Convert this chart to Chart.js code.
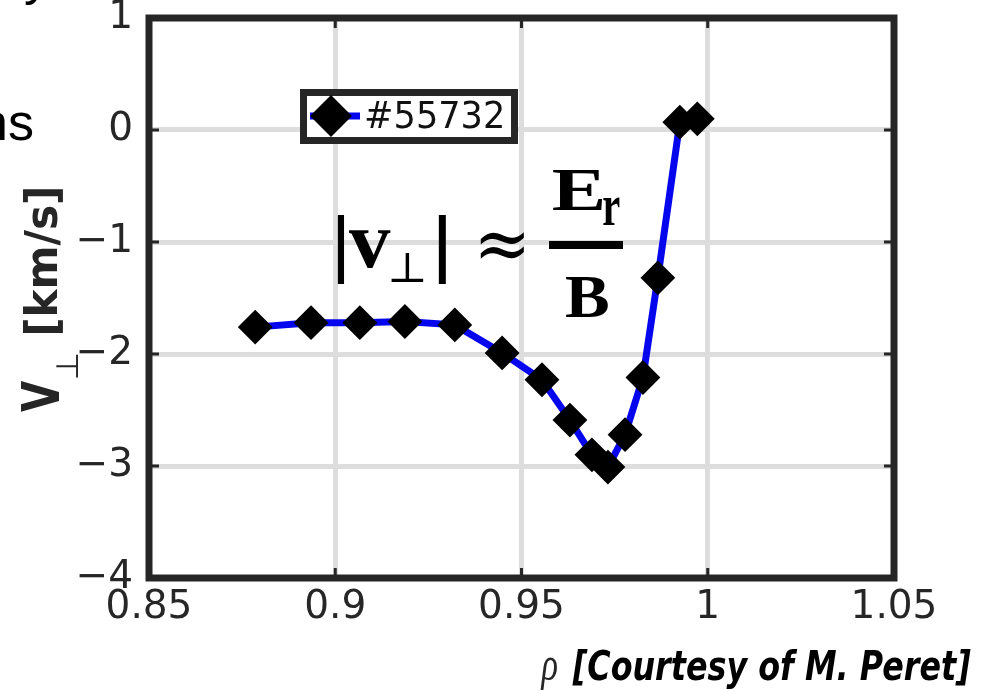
<!DOCTYPE html>
<html><head><meta charset="utf-8">
<script src="https://cdn.jsdelivr.net/npm/chart.js@4.4.1/dist/chart.umd.min.js"></script>
<style>html,body{margin:0;padding:0;background:#fff;overflow:hidden}</style>
</head><body>
<canvas id="c" width="981" height="691"></canvas>
<script>
// ---- data ----
const rho   = [0.8785, 0.8935, 0.9066, 0.9187, 0.9321, 0.9448, 0.9555, 0.9630, 0.9689, 0.9732, 0.9778, 0.9826, 0.9866, 0.9925, 0.9972];
const vPerp = [-1.76, -1.72, -1.72, -1.71, -1.74, -1.99, -2.23, -2.59, -2.90, -3.01, -2.72, -2.21, -1.32, 0.07, 0.10];
const seriesLabel = '#55732';
const xTicks = [0.85, 0.9, 0.95, 1, 1.05];
const yTicks = [1, 0, -1, -2, -3, -4];
const xTitle = 'ρ';
const yTitleV = 'V', yTitleSub = '⊥', yTitleUnit = '[km/s]';
const caption = '[Courtesy of M. Peret]';
const slideFragment = 'ns';

const fmt = v => String(Math.round(v * 100) / 100).replace('-', '\u2212');

function fitText(ctx, text, font, x0, y0, x1, y1, stretch) {
  ctx.save();
  ctx.textAlign = 'left'; ctx.textBaseline = 'alphabetic';
  ctx.font = font.replace('{S}', '100');
  let m = ctx.measureText(text);
  const h = m.actualBoundingBoxAscent + m.actualBoundingBoxDescent;
  const size = 100 * (y1 - y0) / h;
  ctx.font = font.replace('{S}', size.toFixed(2));
  m = ctx.measureText(text);
  const w = m.actualBoundingBoxLeft + m.actualBoundingBoxRight;
  const sx = stretch === false ? 1 : (x1 - x0) / w;
  ctx.translate(x0, y0 + m.actualBoundingBoxAscent);
  ctx.scale(sx, 1);
  ctx.fillText(text, m.actualBoundingBoxLeft, 0);
  ctx.restore();
}
function fitTextRot(ctx, text, font, sx0, sy0, sx1, sy1) {
  ctx.save();
  ctx.translate(sx0, sy1);
  ctx.rotate(-Math.PI / 2);
  fitText(ctx, text, font, 0, 0, sy1 - sy0, sx1 - sx0);
  ctx.restore();
}

const extras = {
  id: 'extras',
  afterDraw(chart) {
    const ctx = chart.ctx, a = chart.chartArea, xs = chart.scales.x, ys = chart.scales.y;
    ctx.save();
    const ink = '#262626';
    // inward tick marks
    ctx.strokeStyle = ink; ctx.lineWidth = 3;
    ctx.beginPath();
    xTicks.forEach(v => { const p = xs.getPixelForValue(v);
      ctx.moveTo(p, a.bottom); ctx.lineTo(p, a.bottom - 10);
      ctx.moveTo(p, a.top); ctx.lineTo(p, a.top + 10); });
    yTicks.forEach(v => { const p = ys.getPixelForValue(v);
      ctx.moveTo(a.left, p); ctx.lineTo(a.left + 10, p);
      ctx.moveTo(a.right, p); ctx.lineTo(a.right - 10, p); });
    ctx.stroke();
    // axes frame
    ctx.lineWidth = 7;
    ctx.strokeRect(a.left, a.top, a.right - a.left, a.bottom - a.top);

    // legend
    ctx.fillStyle = '#fff';
    ctx.fillRect(300, 89, 218, 55);
    ctx.strokeStyle = ink; ctx.lineWidth = 7;
    ctx.strokeRect(303.5, 92.5, 211, 48);
    const ds = chart.data.datasets[0];
    ctx.strokeStyle = ds.borderColor; ctx.lineWidth = ds.borderWidth;
    ctx.beginPath(); ctx.moveTo(310, 116); ctx.lineTo(360, 116); ctx.stroke();
    ctx.fillStyle = '#000'; ctx.strokeStyle = '#000';
    Chart.helpers.drawPoint(ctx, {pointStyle: 'rectRot', radius: 16, borderWidth: 2, rotation: 0}, 331, 116);
    ctx.fillStyle = '#111';
    fitText(ctx, ds.label, '{S}px "DejaVu Sans"', 366, 100, 502, 128);

    // y axis title (rotated)
    ctx.fillStyle = ink;
    fitTextRot(ctx, yTitleV, 'bold {S}px "DejaVu Sans"', 21, 381, 58, 412);
    fitTextRot(ctx, yTitleSub, '{S}px "DejaVu Sans"', 56, 354, 78, 378);
    fitTextRot(ctx, yTitleUnit, 'bold {S}px "DejaVu Sans"', 23, 189, 63, 334);

    // x axis title
    fitText(ctx, xTitle, 'italic {S}px "Liberation Serif"', 540, 657, 557, 690);
    // caption
    ctx.fillStyle = '#000';
    fitText(ctx, caption, 'bold italic {S}px "DejaVu Sans"', 572, 649, 971, 689);

    // formula |v⊥| ≈ Er / B
    ctx.fillStyle = '#000';
    fitText(ctx, '|', 'bold {S}px "Liberation Serif"', 337, 215, 344, 283);
    fitText(ctx, 'v', 'bold {S}px "Liberation Serif"', 349, 230, 391, 268);
    fitText(ctx, '⊥', '{S}px "DejaVu Serif"', 391, 253, 424, 282);
    fitText(ctx, '|', 'bold {S}px "Liberation Serif"', 438, 215, 446, 283);
    fitText(ctx, '≈', '{S}px "DejaVu Serif"', 480, 232, 524, 259);
    fitText(ctx, 'E', 'bold {S}px "Liberation Serif"', 553, 170, 603, 211);
    fitText(ctx, 'r', 'bold {S}px "Liberation Serif"', 603, 197, 620, 225);
    ctx.fillRect(549, 241, 74, 8);
    fitText(ctx, 'B', 'bold {S}px "Liberation Serif"', 566, 277, 608, 317);

    // slide fragments outside the plot
    ctx.fillStyle = '#000';
    ctx.font = '52px "Liberation Sans"';
    ctx.textAlign = 'right'; ctx.textBaseline = 'alphabetic';
    ctx.fillText(slideFragment, 34, 140);
    ctx.textAlign = 'left';
    ctx.fillText('y', 24, -6);
    ctx.restore();
  }
};

const tickFont = {family: '"DejaVu Sans"', size: 39, lineHeight: 1};

new Chart(document.getElementById('c'), {
  type: 'scatter',
  data: {
    datasets: [{
      label: seriesLabel,
      data: rho.map((x, i) => ({x, y: vPerp[i]})),
      showLine: true,
      borderColor: '#0505ee',
      borderWidth: 7,
      pointStyle: 'rectRot',
      pointRadius: 16,
      pointBackgroundColor: '#000',
      pointBorderColor: '#000',
      pointBorderWidth: 2,
      tension: 0
    }]
  },
  options: {
    responsive: false,
    animation: false,
    devicePixelRatio: 1,
    layout: {padding: {left: 0, top: 18, right: 87, bottom: 0}},
    plugins: {legend: {display: false}, tooltip: {enabled: false}},
    scales: {
      x: {
        type: 'linear', min: 0.85, max: 1.05,
        afterBuildTicks: s => { s.ticks = xTicks.map(v => ({value: v})); },
        afterFit: s => { s.height = 113; s.paddingLeft = 0; s.paddingRight = 0; s.paddingTop = 0; s.paddingBottom = 0; },
        grid: {color: '#dddddd', lineWidth: 5, drawTicks: false},
        border: {display: false},
        ticks: {font: tickFont, color: '#262626', padding: 10, maxRotation: 0, autoSkip: false, callback: v => fmt(v)}
      },
      y: {
        type: 'linear', min: -4, max: 1,
        afterBuildTicks: s => { s.ticks = yTicks.map(v => ({value: v})); },
        afterFit: s => { s.width = 149; s.paddingTop = 0; s.paddingBottom = 0; s.paddingLeft = 0; s.paddingRight = 0; },
        grid: {color: '#dddddd', lineWidth: 5, drawTicks: false},
        border: {display: false},
        ticks: {font: tickFont, color: '#262626', padding: 16, autoSkip: false, callback: v => fmt(v)}
      }
    }
  },
  plugins: [extras]
});
</script>
</body></html>
